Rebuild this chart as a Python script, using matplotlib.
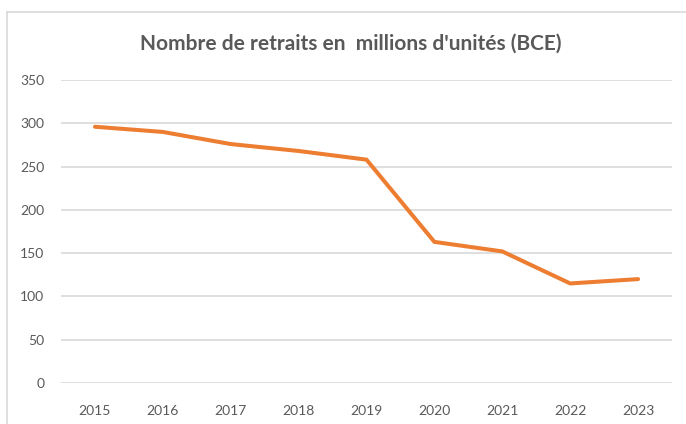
import matplotlib
matplotlib.use("Agg")
import matplotlib.pyplot as plt
from matplotlib.lines import Line2D

years = ["2015", "2016", "2017", "2018", "2019", "2020", "2021", "2022", "2023"]
retraits = [296, 290, 276, 268, 258, 163, 152, 115, 120]
yticks = [0, 50, 100, 150, 200, 250, 300, 350]
title = "Nombre de retraits en  millions d'unités (BCE)"

W, H = 686, 424
fig = plt.figure(figsize=(W / 100, H / 100), dpi=100)
plt.rcParams['font.family'] = ['Lato', 'DejaVu Sans']

left, right = 61 / W, 672 / W
bottom, top = 1 - 383 / H, 1 - 80 / H
ax = fig.add_axes([left, bottom, right - left, top - bottom])

x = list(range(len(years)))
ax.plot(x, retraits, color="#ED7D31", linewidth=2.9, solid_joinstyle="miter", solid_capstyle="round", zorder=3)

ax.set_xlim(-0.5, len(years) - 0.5)
ax.set_ylim(0, 350)
ax.set_yticks(yticks)
ax.set_xticks(x)
ax.set_xticklabels(years)
ax.grid(axis="y", color="#D6D6D6", linewidth=1.1)
ax.set_axisbelow(True)
for s in ax.spines.values():
    s.set_visible(False)
ax.tick_params(axis="both", length=0, labelsize=10, labelcolor="#595959")
ax.tick_params(axis="y", pad=12)
ax.tick_params(axis="x", pad=16)

fig.text(351 / W, 1 - 44 / H, title, ha="center", va="center",
         fontsize=15, fontweight="bold", color="#595959")

# chart border (top and left visible)
fig.add_artist(Line2D([7 / W, 1], [1 - 12 / H, 1 - 12 / H], color="#D9D9D9", linewidth=1.2, transform=fig.transFigure))
fig.add_artist(Line2D([7 / W, 7 / W], [1 - 12 / H, 0], color="#D9D9D9", linewidth=1.2, transform=fig.transFigure))

fig.savefig("out.png", dpi=100)
